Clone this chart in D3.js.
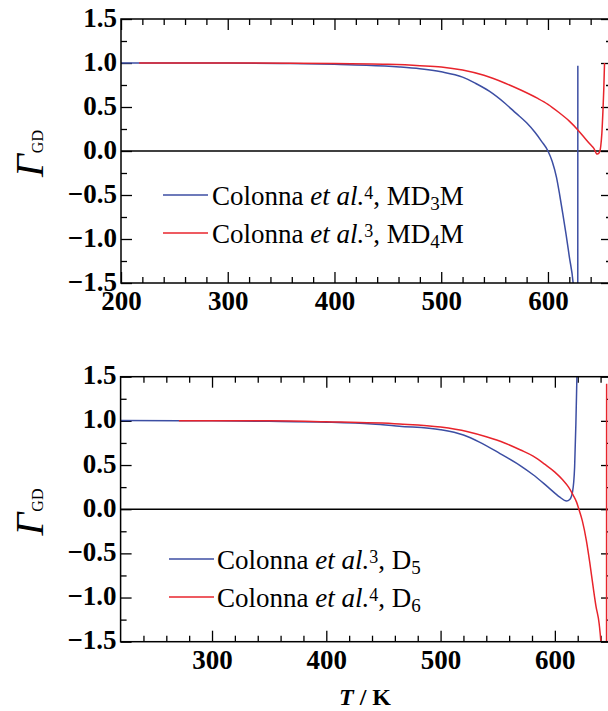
<!DOCTYPE html>
<html>
<head>
<meta charset="utf-8">
<script src="https://cdn.jsdelivr.net/npm/d3@7"></script>
<style>
  html, body { margin: 0; padding: 0; background: #fff; }
  svg { display: block; }
  text { font-family: "Liberation Serif", "Times New Roman", serif; fill: #000; }
</style>
</head>
<body>
<svg id="chart" width="608" height="711"></svg>
<script>
// Tick values
const yTicks = [-1.5, -1.0, -0.5, 0.0, 0.5, 1.0, 1.5];
const yMinor = [-1.25, -0.75, -0.25, 0.25, 0.75, 1.25];
const topXTicks = [200, 300, 400, 500, 600];
const botXTicks = [300, 400, 500, 600];

// Upper panel: MD3M (blue) and MD4M (red)
const md3mT = [200, 250, 300, 350, 400, 430, 461, 480, 500, 520, 532, 545, 560, 570, 580, 588, 594, 600, 604, 608, 611, 614, 617, 620, 623.6, 625.5, 627, 627.9, 628];
const md3mG = [1.0, 1.0, 1.0, 0.995, 0.985, 0.975, 0.955, 0.935, 0.90, 0.84, 0.77, 0.68, 0.54, 0.43, 0.32, 0.21, 0.11, 0.0, -0.12, -0.3, -0.5, -0.72, -0.95, -1.2, -1.5, -1.8, -2.4, -3.0, 0.97];
const md4mT = [217, 300, 400, 450, 480, 500, 520, 540, 560, 575, 590, 600, 610, 620, 628, 635, 640, 643, 646, 648, 649.5, 650.5, 651.5, 652.3, 653];
const md4mG = [1.0, 1.0, 0.995, 0.985, 0.97, 0.955, 0.92, 0.86, 0.77, 0.69, 0.60, 0.53, 0.44, 0.34, 0.24, 0.14, 0.07, 0.03, -0.035, -0.02, 0.06, 0.2, 0.45, 0.7, 1.0];

// Lower panel: D5 (blue) and D6 (red)
const d5T = [220, 300, 350, 400, 440, 464, 500, 520, 534, 552, 569, 581, 594, 604, 610.3, 613, 615.5, 617.3, 618.4, 619.3, 619.8];
const d5G = [1.005, 1.0, 0.995, 0.985, 0.965, 0.94, 0.90, 0.84, 0.76, 0.63, 0.50, 0.39, 0.25, 0.14, 0.093, 0.11, 0.2, 0.48, 0.97, 1.5, 1.8];
const d6T = [271, 350, 400, 464, 500, 523, 540, 556, 570, 581, 591, 600, 607, 612, 616, 619, 621, 624, 627.5, 630.5, 633.5, 636, 638.8, 640.5, 642.5, 645.2, 645.3];
const d6G = [1.0, 1.0, 0.99, 0.965, 0.93, 0.88, 0.82, 0.75, 0.67, 0.60, 0.51, 0.42, 0.33, 0.25, 0.16, 0.08, 0.0, -0.13, -0.35, -0.6, -0.88, -1.1, -1.3, -1.55, -2.2, -3.0, 1.42];

const BLUE = "#3c4ea3";
const RED = "#e8242c";

const svg = d3.select("#chart");

const panels = [
  {
    id: "top",
    x: d3.scaleLinear().domain([200, 660]).range([121, 612]),
    y: d3.scaleLinear().domain([-1.5, 1.5]).range([283, 19]),
    xTicks: topXTicks,
    xMinor: d3.range(220, 660, 20).filter(v => v % 100 !== 0),
    series: [
      { T: md3mT, G: md3mG, color: BLUE, label: ["4", "MD", "3", "M"] },
      { T: md4mT, G: md4mG, color: RED, label: ["3", "MD", "4", "M"] }
    ],
    legend: { x1: 163, x2: 208, tx: 212, y: [195, 233] },
    yLabelY: 153.5
  },
  {
    id: "bot",
    x: d3.scaleLinear().domain([220, 650]).range([120.6, 612]),
    y: d3.scaleLinear().domain([-1.5, 1.5]).range([641.7, 376.7]),
    xTicks: botXTicks,
    xMinor: d3.range(240, 650, 20).filter(v => v % 100 !== 0),
    series: [
      { T: d5T, G: d5G, color: BLUE, label: ["3", "D", "5", ""] },
      { T: d6T, G: d6G, color: RED, label: ["4", "D", "6", ""] }
    ],
    legend: { x1: 169, x2: 214, tx: 217, y: [559, 597] },
    yLabelY: 512
  }
];

panels.forEach(p => {
  const [x0, x1] = p.x.range();
  const [y0, y1] = p.y.range(); // y0 bottom, y1 top
  const g = svg.append("g");

  // clip region for curves
  g.append("clipPath").attr("id", "clip-" + p.id)
    .append("rect").attr("x", x0).attr("y", y1).attr("width", x1 - x0).attr("height", y0 - y1);

  const styleAxis = sel => {
    sel.select(".domain").remove();
    sel.selectAll(".tick line").attr("stroke", "#000").attr("stroke-width", 1.3);
  };
  const styleLabels = sel => sel.selectAll("text")
    .attr("font-size", 27).attr("font-weight", "bold")
    .attr("font-family", "'Liberation Serif', serif").attr("fill", "#000");

  // bottom axis, major ticks + labels
  g.append("g").attr("transform", `translate(0,${y0})`)
    .call(d3.axisBottom(p.x).tickValues(p.xTicks).tickFormat(d3.format("d"))
      .tickSizeInner(-11).tickSizeOuter(0).tickPadding(8))
    .call(styleAxis).call(styleLabels);
  g.append("g").attr("transform", `translate(0,${y0})`)
    .call(d3.axisBottom(p.x).tickValues(p.xMinor).tickFormat("").tickSizeInner(-6).tickSizeOuter(0))
    .call(styleAxis);
  // top mirror
  g.append("g").attr("transform", `translate(0,${y1})`)
    .call(d3.axisTop(p.x).tickValues(p.xTicks).tickFormat("").tickSizeInner(-11).tickSizeOuter(0))
    .call(styleAxis);
  g.append("g").attr("transform", `translate(0,${y1})`)
    .call(d3.axisTop(p.x).tickValues(p.xMinor).tickFormat("").tickSizeInner(-6).tickSizeOuter(0))
    .call(styleAxis);

  // left axis
  g.append("g").attr("transform", `translate(${x0},0)`)
    .call(d3.axisLeft(p.y).tickValues(yTicks).tickFormat(d3.format(".1f"))
      .tickSizeInner(-11).tickSizeOuter(0).tickPadding(4))
    .call(styleAxis).call(styleLabels)
    .selectAll("text").attr("dy", "0.26em");
  g.append("g").attr("transform", `translate(${x0},0)`)
    .call(d3.axisLeft(p.y).tickValues(yMinor).tickFormat("").tickSizeInner(-6).tickSizeOuter(0))
    .call(styleAxis);
  // right mirror
  g.append("g").attr("transform", `translate(${x1},0)`)
    .call(d3.axisRight(p.y).tickValues(yTicks).tickFormat("").tickSizeInner(-11).tickSizeOuter(0))
    .call(styleAxis);
  g.append("g").attr("transform", `translate(${x1},0)`)
    .call(d3.axisRight(p.y).tickValues(yMinor).tickFormat("").tickSizeInner(-6).tickSizeOuter(0))
    .call(styleAxis);

  // zero reference line
  g.append("line").attr("x1", x0).attr("x2", x1)
    .attr("y1", p.y(0)).attr("y2", p.y(0))
    .attr("stroke", "#000").attr("stroke-width", 1.4);

  // curves
  const line = d3.line().x(d => p.x(d[0])).y(d => p.y(d[1])).curve(d3.curveMonotoneX);
  const curves = g.append("g").attr("clip-path", `url(#clip-${p.id})`);
  p.series.forEach(s => {
    const pts = s.T.map((t, i) => [t, s.G[i]]);
    curves.append("path").datum(pts).attr("d", line)
      .attr("fill", "none").attr("stroke", s.color).attr("stroke-width", 1.5);
  });

  // frame
  g.append("rect").attr("x", x0).attr("y", y1).attr("width", x1 - x0).attr("height", y0 - y1)
    .attr("fill", "none").attr("stroke", "#000").attr("stroke-width", 1.5);

  // legend
  p.series.forEach((s, i) => {
    const ly = p.legend.y[i];
    g.append("line").attr("x1", p.legend.x1).attr("x2", p.legend.x2)
      .attr("y1", ly).attr("y2", ly).attr("stroke", s.color).attr("stroke-width", 1.5);
    const t = g.append("text").attr("x", p.legend.tx).attr("y", ly + 10).attr("font-size", 27);
    t.append("tspan").text("Colonna ");
    t.append("tspan").attr("font-style", "italic").text("et al.");
    t.append("tspan").attr("font-size", 18).attr("dy", -6).text(s.label[0]);
    t.append("tspan").attr("dy", 6).text(", " + s.label[1]);
    t.append("tspan").attr("font-size", 19).attr("dy", 5).text(s.label[2]);
    if (s.label[3]) t.append("tspan").attr("dy", -5).text(s.label[3]);
  });

  // y-axis title
  const yl = g.append("text")
    .attr("transform", `translate(43,${p.yLabelY}) rotate(-90)`)
    .attr("text-anchor", "middle");
  yl.append("tspan").attr("font-size", 40).attr("font-style", "italic").text("Γ");
  yl.append("tspan").attr("font-size", 16).attr("dx", 1).text("GD");
});

// x-axis title for the lower panel
const xt = svg.append("text").attr("x", 365).attr("y", 705)
  .attr("text-anchor", "middle").attr("font-size", 24).attr("font-weight", "bold");
xt.append("tspan").attr("font-style", "italic").text("T");
xt.append("tspan").text(" / K");
</script>
</body>
</html>
